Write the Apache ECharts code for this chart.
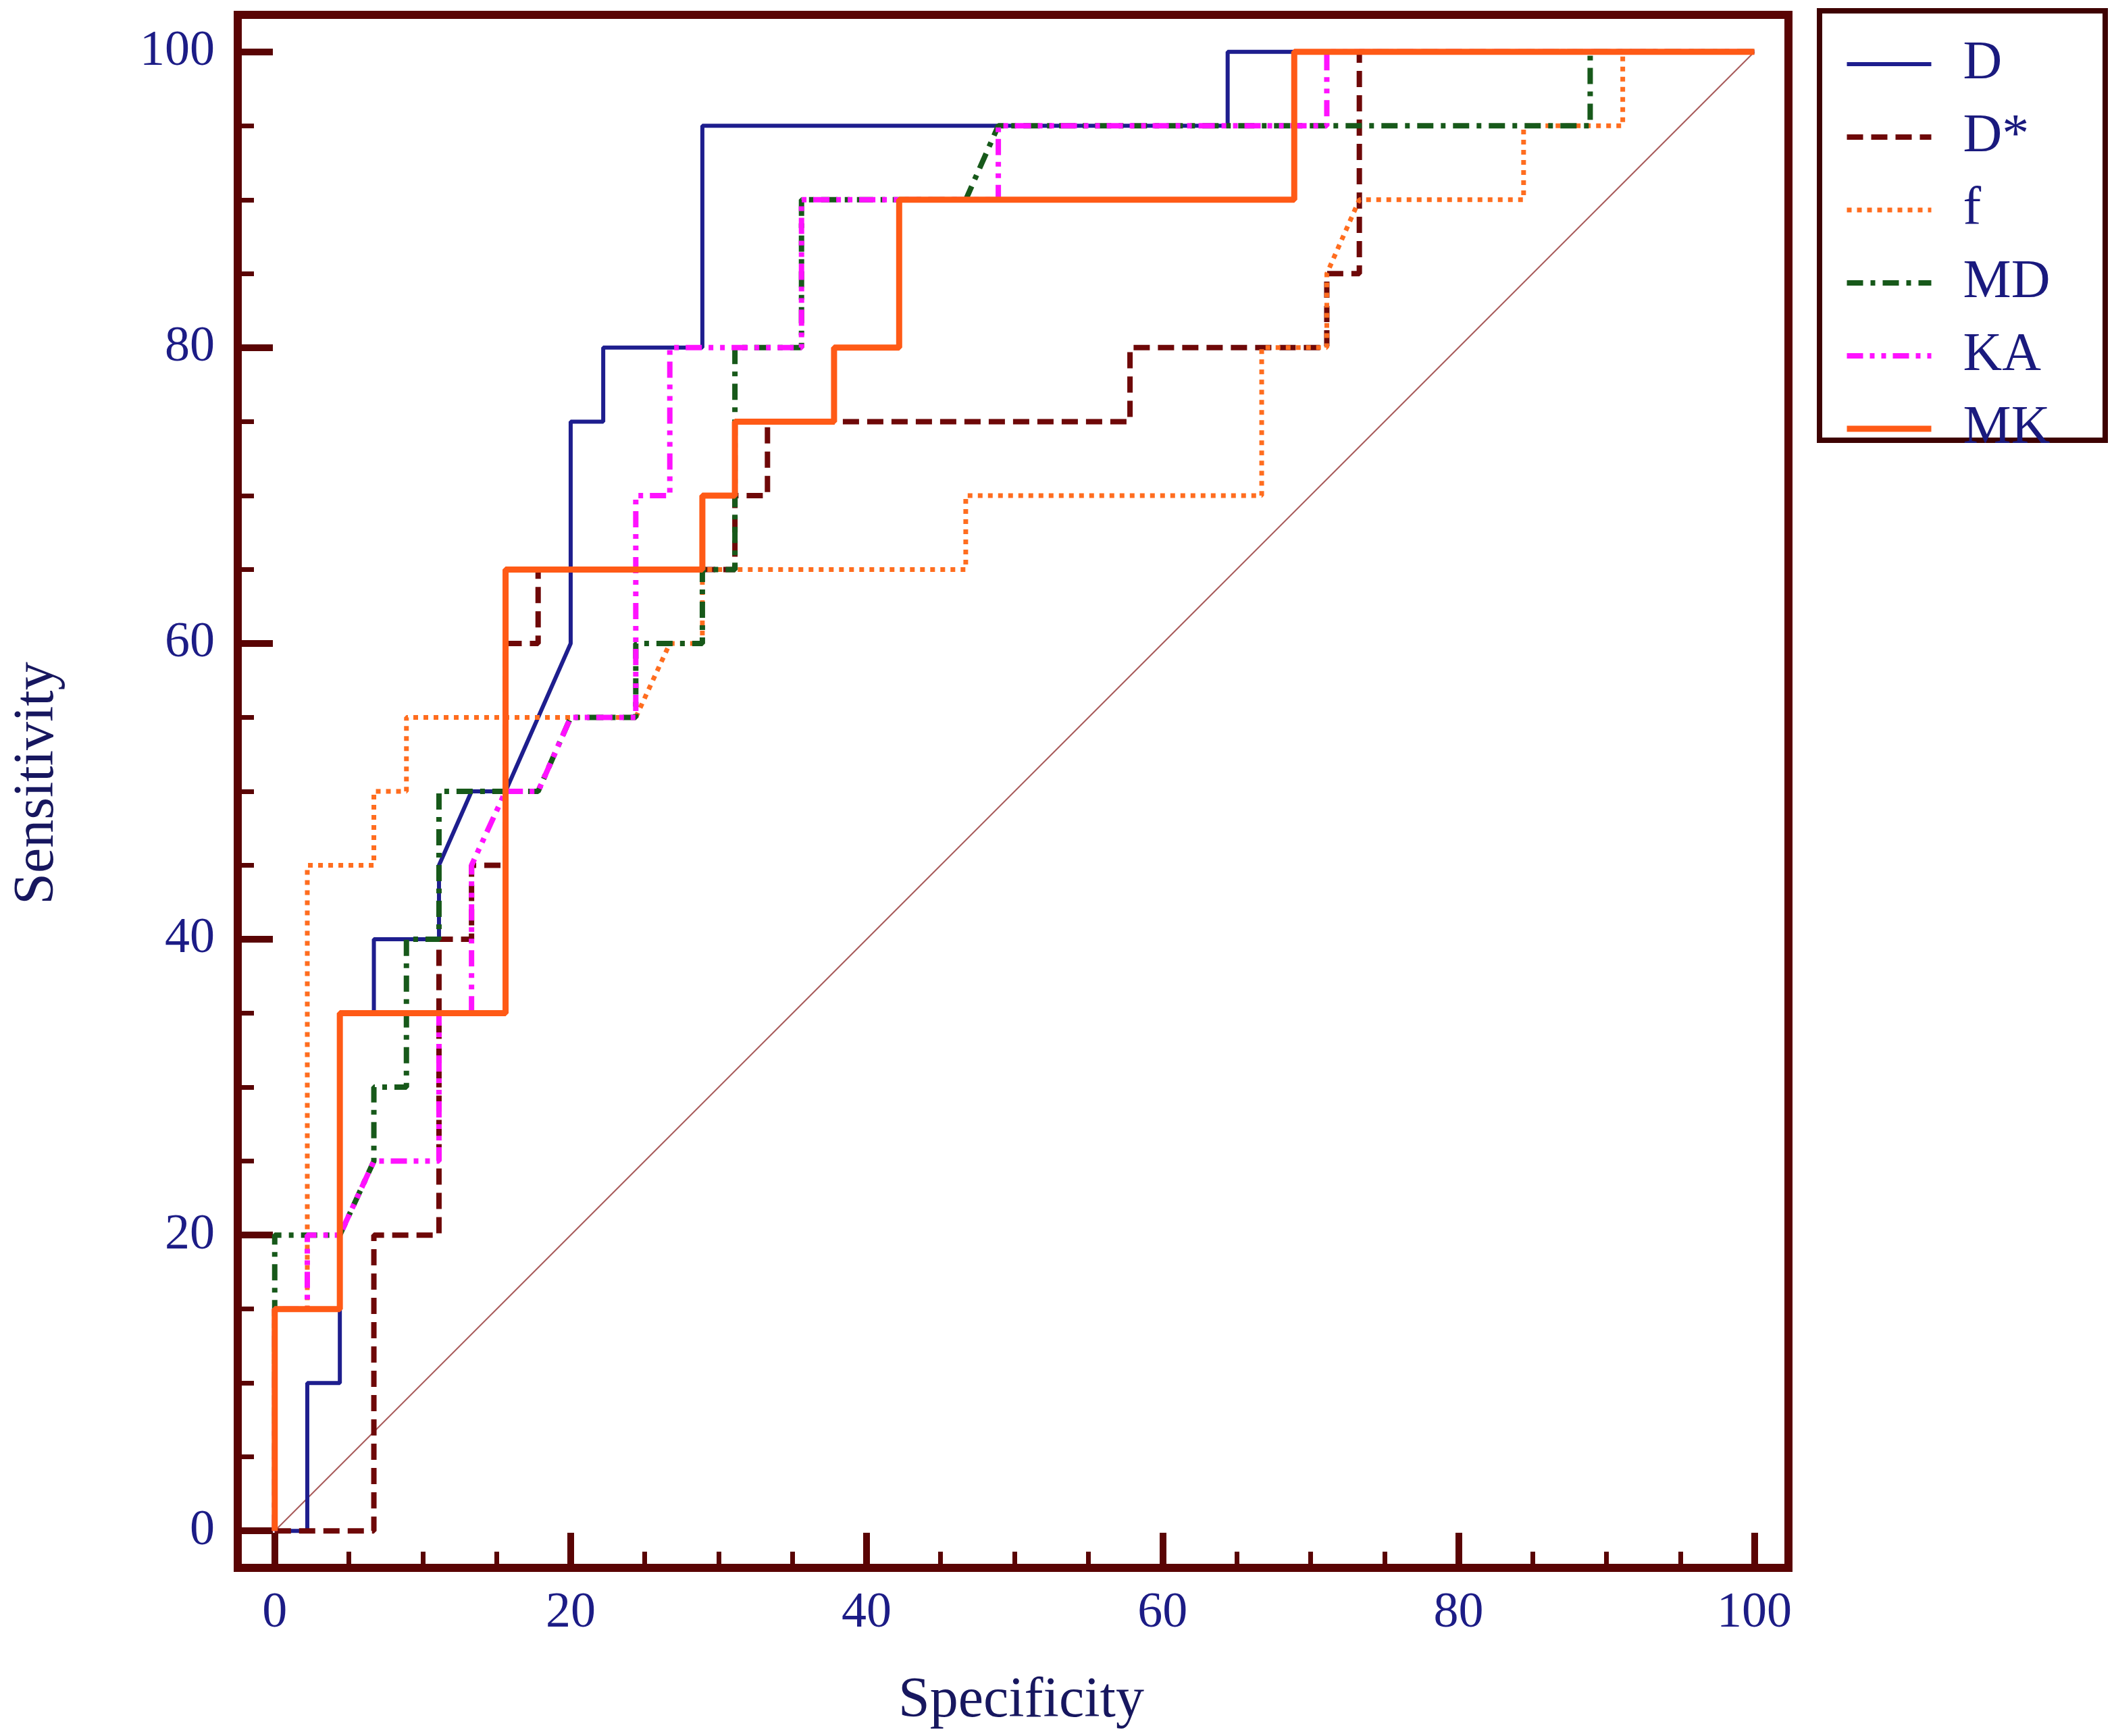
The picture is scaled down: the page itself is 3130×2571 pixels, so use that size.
<!DOCTYPE html>
<html>
<head>
<meta charset="utf-8">
<script src="https://cdn.jsdelivr.net/npm/echarts@6/dist/echarts.min.js"></script>
<style>
  html, body { margin: 0; padding: 0; background: #fff; }
  #chart { width: 3130px; height: 2571px; }
</style>
</head>
<body>
<div id="chart"></div>
<script>
"use strict";

// ROC curves: specificity on x, sensitivity on y (percent)
const names = ['D', 'D*', 'f', 'MD', 'KA', 'MK'];

const dSpec  = [0, 2.2, 2.2, 4.4, 4.4, 6.7, 6.7, 11.1, 11.1, 13.3, 15.6, 20.0, 20.0, 22.2, 22.2, 28.9, 28.9, 64.4, 64.4, 100];
const dSens  = [0, 0, 10, 10, 35, 35, 40, 40, 45, 50, 50, 60, 75, 75, 80, 80, 95, 95, 100, 100];

const dsSpec = [0, 6.7, 6.7, 11.1, 11.1, 13.3, 13.3, 15.6, 15.6, 17.8, 17.8, 31.1, 31.1, 33.3, 33.3, 57.8, 57.8, 71.1, 71.1, 73.3, 73.3, 100];
const dsSens = [0, 0, 20, 20, 40, 40, 45, 45, 60, 60, 65, 65, 70, 70, 75, 75, 80, 80, 85, 85, 100, 100];

const fSpec  = [0, 0, 2.2, 2.2, 6.7, 6.7, 8.9, 8.9, 24.4, 26.7, 28.9, 28.9, 46.7, 46.7, 66.7, 66.7, 71.1, 71.1, 73.3, 84.4, 84.4, 91.1, 91.1, 100];
const fSens  = [0, 15, 15, 45, 45, 50, 50, 55, 55, 60, 60, 65, 65, 70, 70, 80, 80, 85, 90, 90, 95, 95, 100, 100];

const mdSpec = [0, 0, 4.4, 6.7, 6.7, 8.9, 8.9, 11.1, 11.1, 17.8, 20.0, 24.4, 24.4, 28.9, 28.9, 31.1, 31.1, 35.6, 35.6, 46.7, 48.9, 88.9, 88.9, 100];
const mdSens = [0, 20, 20, 25, 30, 30, 40, 40, 50, 50, 55, 55, 60, 60, 65, 65, 80, 80, 90, 90, 95, 95, 100, 100];

const kaSpec = [0, 0, 2.2, 2.2, 4.4, 6.7, 11.1, 11.1, 13.3, 13.3, 15.6, 17.8, 20.0, 24.4, 24.4, 26.7, 26.7, 35.6, 35.6, 48.9, 48.9, 71.1, 71.1, 100];
const kaSens = [0, 15, 15, 20, 20, 25, 25, 35, 35, 45, 50, 50, 55, 55, 70, 70, 80, 80, 90, 90, 95, 95, 100, 100];

const mkSpec = [0, 0, 4.4, 4.4, 15.6, 15.6, 28.9, 28.9, 31.1, 31.1, 37.8, 37.8, 42.2, 42.2, 68.9, 68.9, 100];
const mkSens = [0, 15, 15, 35, 35, 65, 65, 70, 70, 75, 75, 80, 80, 90, 90, 100, 100];

const refSpec = [0, 100];
const refSens = [0, 100];

const majorTicks = [0, 20, 40, 60, 80, 100];
const minorTicks = [5, 10, 15, 25, 30, 35, 45, 50, 55, 65, 70, 75, 85, 90, 95];

const FONT = "'Liberation Serif', 'Times New Roman', serif";
const FRAME = '#5a0404';

function pairs(xs, ys) {
  return xs.map((x, i) => [x, ys[i]]);
}

const chart = echarts.init(document.getElementById('chart'));

function axisPair(dim) {
  const base = {
    type: 'value',
    min: -2.5,
    max: dim === 'x' ? 102.3 : 102.5,
    splitLine: { show: false },
    axisLine: { show: false, onZero: false }
  };
  const major = Object.assign({}, base, {
    position: dim === 'x' ? 'bottom' : 'left',
    axisTick: {
      show: true, inside: true, length: 52, customValues: majorTicks,
      lineStyle: { color: FRAME, width: 10 }
    },
    axisLabel: {
      show: true, customValues: majorTicks,
      fontFamily: FONT, fontSize: 74, color: '#1c1c86',
      margin: dim === 'x' ? 68 : 34,
      verticalAlign: 'middle'
    }
  });
  const minor = Object.assign({}, base, {
    position: dim === 'x' ? 'bottom' : 'left',
    axisTick: {
      show: true, inside: true, length: 24, customValues: minorTicks,
      lineStyle: { color: FRAME, width: 7 }
    },
    axisLabel: { show: false }
  });
  return [major, minor];
}

const option = {
  animation: false,
  backgroundColor: '#ffffff',
  grid: {
    left: 352, right: 482, top: 22, bottom: 249,
    show: true, borderColor: FRAME, borderWidth: 12,
    backgroundColor: 'transparent'
  },
  xAxis: axisPair('x'),
  yAxis: axisPair('y'),
  legend: {
    data: names,
    orient: 'vertical',
    left: 2730, top: 55,
    padding: 0,
    itemWidth: 125, itemHeight: 20, itemGap: 28,
    selectedMode: false,
    itemStyle: { opacity: 0 },
    lineStyle: { width: 'inherit' },
    textStyle: { fontFamily: FONT, fontSize: 80, color: '#1a1a7e', padding: [0, 0, 0, 42] }
  },
  graphic: [
    {
      type: 'rect', z: 1,
      shape: { x: 2694, y: 16, width: 423, height: 636 },
      style: { fill: 'none', stroke: '#3e0202', lineWidth: 8 }
    },
    {
      type: 'text', left: 1330, top: 2478,
      style: { text: 'Specificity', fontFamily: FONT, fontSize: 84, fill: '#17175f' }
    },
    {
      type: 'text', x: 56, y: 1160, rotation: Math.PI / 2,
      style: { text: 'Sensitivity', fontFamily: FONT, fontSize: 84, fill: '#17175f',
               align: 'center', verticalAlign: 'middle' }
    }
  ],
  series: [
    {
      name: 'ref', type: 'line', symbol: 'none', z: 1,
      data: pairs(refSpec, refSens),
      lineStyle: { color: '#a85a5a', width: 2 }
    },
    {
      name: 'D', type: 'line', symbol: 'none', z: 2,
      data: pairs(dSpec, dSens),
      itemStyle: { color: '#1e1e8e' },
      lineStyle: { color: '#1e1e8e', width: 6 }
    },
    {
      name: 'D*', type: 'line', symbol: 'none', z: 3,
      data: pairs(dsSpec, dsSens),
      itemStyle: { color: '#6e0808' },
      lineStyle: { color: '#6e0808', width: 8, type: [24, 12] }
    },
    {
      name: 'f', type: 'line', symbol: 'none', z: 4,
      data: pairs(fSpec, fSens),
      itemStyle: { color: '#ff6d1f' },
      lineStyle: { color: '#ff6d1f', width: 7, type: [7, 8] }
    },
    {
      name: 'MD', type: 'line', symbol: 'none', z: 5,
      data: pairs(mdSpec, mdSens),
      itemStyle: { color: '#17591a' },
      lineStyle: { color: '#17591a', width: 8, type: [24, 11, 7, 11] }
    },
    {
      name: 'KA', type: 'line', symbol: 'none', z: 6,
      data: pairs(kaSpec, kaSens),
      itemStyle: { color: '#ff12ff' },
      lineStyle: { color: '#ff12ff', width: 8, type: [24, 10, 7, 10, 7, 10] }
    },
    {
      name: 'MK', type: 'line', symbol: 'none', z: 7,
      data: pairs(mkSpec, mkSens),
      itemStyle: { color: '#ff5a16' },
      lineStyle: { color: '#ff5a16', width: 9 }
    }
  ]
};

chart.setOption(option);
</script>
</body>
</html>
